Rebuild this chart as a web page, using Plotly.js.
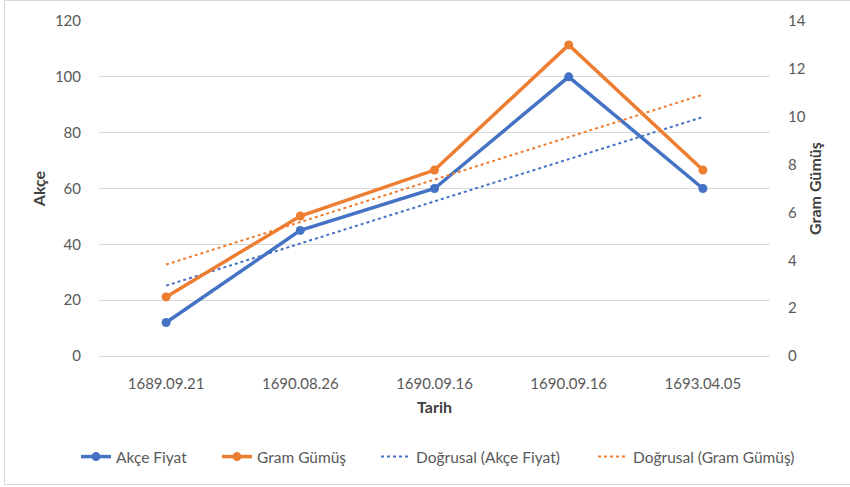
<!DOCTYPE html>
<html>
<head>
<meta charset="utf-8">
<script src="https://cdn.plot.ly/plotly-3.0.1.min.js"></script>
<style>
html,body{margin:0;padding:0;background:#fff;}
#frame{position:absolute;left:4px;top:0px;width:850px;height:485px;border:1px solid #d9d9d9;box-sizing:border-box;}
#chart{position:absolute;left:0;top:0;width:850px;height:487px;}
</style>
</head>
<body>
<div id="frame"></div>
<div id="chart"></div>
<script>
const dates = ['1689.09.21','1690.08.26','1690.09.16','1690.09.16','1693.04.05'];
const akceFiyat = [12, 45, 60, 100, 60];
const gramGumus = [2.47, 5.85, 7.77, 13.0, 7.77];
const leftTicks = [0,20,40,60,80,100,120];
const rightTicks = [0,2,4,6,8,10,12,14];

const idx = dates.map((d,i)=>i);

function linearFit(ys){
  const n = ys.length;
  const mx = idx.reduce((a,b)=>a+b,0)/n;
  const my = ys.reduce((a,b)=>a+b,0)/n;
  let sxy=0,sxx=0;
  for(let i=0;i<n;i++){sxy+=(idx[i]-mx)*(ys[i]-my);sxx+=(idx[i]-mx)*(idx[i]-mx);}
  const b=sxy/sxx, a=my-b*mx;
  return idx.map(x=>a+b*x);
}

const blue='#4472C4', orange='#ED7D31';
const font='Lato, "Open Sans", sans-serif';
const tickFont={family:font,size:15,color:'#595959'};
const titleFont={family:font,size:16,color:'#404040',weight:'bold'};

const traces = [
  {x:idx,y:akceFiyat,name:'Akçe Fiyat',type:'scatter',mode:'lines+markers',
   line:{color:blue,width:3.5},marker:{color:blue,size:9},yaxis:'y',legend:'legend'},
  {x:idx,y:gramGumus,name:'Gram Gümüş',type:'scatter',mode:'lines+markers',
   line:{color:orange,width:3.5},marker:{color:orange,size:9},yaxis:'y2',legend:'legend2'},
  {x:idx,y:linearFit(akceFiyat),name:'Doğrusal (Akçe Fiyat)',type:'scatter',mode:'lines',
   line:{color:blue,width:2,dash:'dot'},yaxis:'y',legend:'legend3'},
  {x:idx,y:linearFit(gramGumus),name:'Doğrusal (Gram Gümüş)',type:'scatter',mode:'lines',
   line:{color:orange,width:2,dash:'dot'},yaxis:'y2',legend:'legend4'}
];

function leg(px){
  return {xref:'container',yref:'container',x:px/850,xanchor:'left',y:30/487,yanchor:'middle',
    orientation:'h',bgcolor:'rgba(0,0,0,0)',font:{family:font,size:15.5,color:'#595959'}};
}

const layout = {
  width:850,height:487,
  margin:{l:99,r:80,t:21,b:131,autoexpand:false},
  paper_bgcolor:'rgba(0,0,0,0)',plot_bgcolor:'rgba(0,0,0,0)',
  font:{family:font,size:15,color:'#595959'},
  showlegend:true,
  legend:leg(117-41),
  legend2:leg(258-41),
  legend3:leg(417-41),
  legend4:leg(634-41),
  xaxis:{range:[-0.5,4.5],tickvals:idx,ticktext:dates,showgrid:false,zeroline:false,
    showline:false,ticks:'outside',ticklen:14,tickcolor:'rgba(0,0,0,0)',
    tickfont:tickFont,automargin:false,
    title:{text:'Tarih',font:titleFont,standoff:10}},
  yaxis:{range:[0,120],tickvals:leftTicks,showgrid:true,gridcolor:'#d9d9d9',gridwidth:1,
    zeroline:true,zerolinecolor:'#d9d9d9',zerolinewidth:1,showline:false,
    ticks:'outside',ticklen:14,tickcolor:'rgba(0,0,0,0)',automargin:false,
    tickfont:tickFont,
    title:{text:'Akçe',font:titleFont,standoff:5}},
  yaxis2:{range:[0,14],tickvals:rightTicks,overlaying:'y',side:'right',showgrid:false,
    zeroline:false,showline:false,ticks:'outside',ticklen:14,tickcolor:'rgba(0,0,0,0)',
    tickfont:tickFont,automargin:false,
    title:{text:'Gram Gümüş',font:titleFont,standoff:5}}
};

Plotly.newPlot('chart',traces,layout,{displayModeBar:false,staticPlot:true});
</script>
</body>
</html>
